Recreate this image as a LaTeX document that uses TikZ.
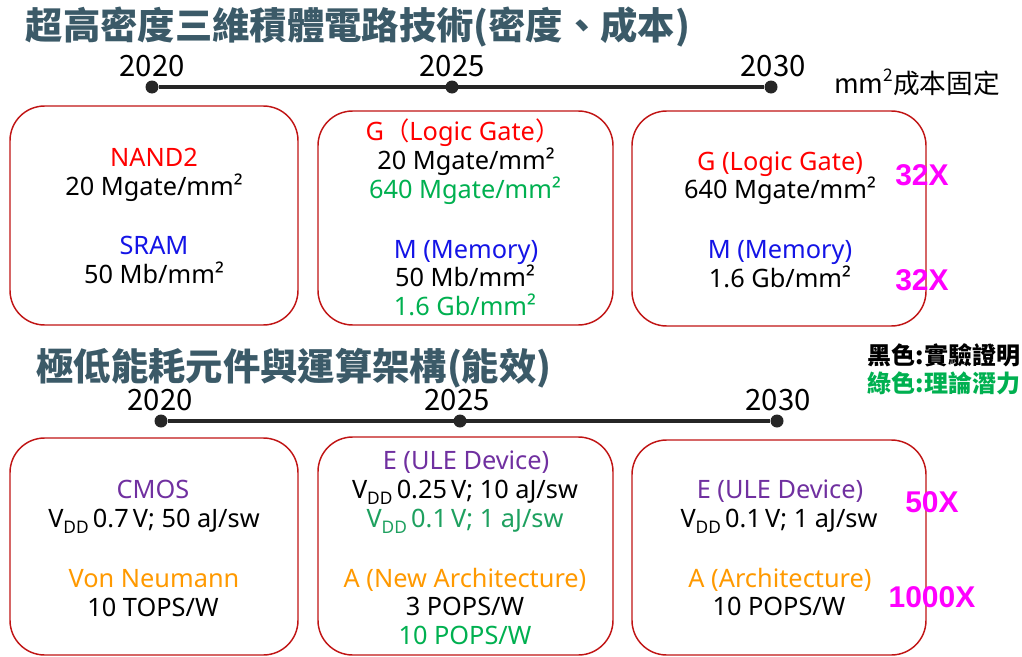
\documentclass[tikz,border=0pt]{standalone}
\usepackage{fontspec}
\setmainfont{Noto Sans}
\newfontfamily\cjk{Noto Sans CJK TC}
\newfontfamily\arialf{Liberation Sans}
\definecolor{titlec}{RGB}{59,90,104}
\definecolor{boxred}{RGB}{192,20,20}
\definecolor{linec}{RGB}{38,38,38}
\definecolor{gr}{RGB}{0,176,80}
\definecolor{grb}{RGB}{30,160,95}
\definecolor{bl}{RGB}{20,20,230}
\definecolor{rd}{RGB}{255,0,0}
\definecolor{pu}{RGB}{112,48,160}
\definecolor{orc}{RGB}{255,153,0}
\definecolor{magc}{RGB}{255,0,255}
\newcommand\Vdd{V\raisebox{-0.26em}{\fontsize{13}{13}\selectfont DD}\,}
\newcommand\sqr{²}
\begin{document}
\begin{tikzpicture}[x=0.75pt,y=-0.75pt,
  box/.style={draw=boxred, line width=1.1pt, rounded corners=26pt, inner sep=0pt},
  t/.style={font=\fontsize{19}{22}\selectfont, inner sep=0pt, text height=13.6pt, text depth=0pt},
  ttl/.style={font=\cjk\bfseries\fontsize{28}{30}\selectfont, text=titlec, inner sep=0pt},
  yr/.style={font=\cjk\fontsize{22}{24}\selectfont, inner sep=0pt},
  dot/.style={circle, fill=linec, minimum size=9.75pt, inner sep=0pt},
  tl/.style={line width=3pt, draw=linec},
  mag/.style={font=\arialf\bfseries\fontsize{22.5}{24}\selectfont, text=magc, inner sep=0pt},
  leg/.style={font=\cjk\bfseries\fontsize{18}{20}\selectfont, inner sep=0pt},
]
\useasboundingbox (0,0) rectangle (1022,657);

% ---------- top section ----------
\node[ttl] (title1) at (358,27) {超高密度三維積體電路技術(密度、成本)};
\node[yr] (y1a) at (152,66) {2020};
\node[yr] (y1b) at (452,66) {2025};
\node[yr] (y1c) at (773,66) {2030};
\node[dot] (d1a) at (152,87) {};
\node[dot] (d1b) at (452,87) {};
\node[dot] (d1c) at (771,87) {};
\draw[tl] (d1a) -- (d1c);
\node[font=\cjk\fontsize{20}{22}\selectfont, inner sep=0pt] (cost) at (917,82) {mm\raisebox{0.45em}{\fontsize{13}{13}\selectfont 2}成本固定};

\node[box, minimum width=216pt, minimum height=164.25pt] (b1) at (154,215.5) {};
\node[box, minimum width=221.25pt, minimum height=160.5pt] (b2) at (465.5,218) {};
\node[box, minimum width=220.5pt, minimum height=161.25pt] (b3) at (779,218.5) {};

\node[t, text=rd] (b1l1) at (154,157) {NAND2};
\node[t] (b1l2) at (154,186) {20 Mgate/mm\sqr};
\node[t, text=bl] (b1l3) at (154,245) {SRAM};
\node[t] (b1l4) at (154,274) {50 Mb/mm\sqr};

\node[t, text=rd] (b2l1) at (463,131) {G{\cjk （}Logic Gate{\cjk ）}};
\node[t] (b2l2) at (466,160) {20 Mgate/mm\sqr};
\node[t, text=gr] (b2l3) at (465,189) {640 Mgate/mm\sqr};
\node[t, text=bl] (b2l4) at (466,249) {M (Memory)};
\node[t] (b2l5) at (465,277) {50 Mb/mm\sqr};
\node[t, text=gr] (b2l6) at (465,306) {1.6 Gb/mm\sqr};

\node[t, text=rd] (b3l1) at (780,161) {G (Logic Gate)};
\node[t] (b3l2) at (780,189) {640 Mgate/mm\sqr};
\node[t, text=bl] (b3l3) at (780,249) {M (Memory)};
\node[t] (b3l4) at (780,278) {1.6 Gb/mm\sqr};

\node[mag] (x1) at (922,175) {32X};
\node[mag] (x2) at (922,280) {32X};

\node[leg] (leg1) at (944,355) {黑色:實驗證明};
\node[leg, text=gr] (leg2) at (944,383) {綠色:理論潛力};

% ---------- bottom section ----------
\node[ttl] (title2) at (294,368) {極低能耗元件與運算架構(能效)};
\node[yr] (y2a) at (160,400) {2020};
\node[yr] (y2b) at (457,400) {2025};
\node[yr] (y2c) at (778,400) {2030};
\node[dot] (d2a) at (161,421) {};
\node[dot] (d2b) at (460,421) {};
\node[dot] (d2c) at (777,421) {};
\draw[tl] (d2a) -- (d2c);

\node[box, minimum width=216pt, minimum height=162.75pt] (b4) at (154,546.5) {};
\node[box, minimum width=221.25pt, minimum height=163.5pt] (b5) at (465.5,546) {};
\node[box, minimum width=220.5pt, minimum height=161.25pt] (b6) at (779,547.5) {};

\node[t, text=pu] (b4l1) at (153,489) {CMOS};
\node[t] (b4l2) at (154,518) {\Vdd0.7\,V; 50 aJ/sw};
\node[t, text=orc] (b4l3) at (154,578) {Von Neumann};
\node[t] (b4l4) at (153,607) {10 TOPS/W};

\node[t, text=pu] (b5l1) at (466,460) {E (ULE Device)};
\node[t] (b5l2) at (465,489) {\Vdd0.25\,V; 10 aJ/sw};
\node[t, text=grb] (b5l3) at (465,518) {\Vdd0.1\,V; 1 aJ/sw};
\node[t, text=orc] (b5l4) at (465,578) {A (New Architecture)};
\node[t] (b5l5) at (465,606) {3 POPS/W};
\node[t, text=gr] (b5l6) at (465,635) {10 POPS/W};

\node[t, text=pu] (b6l1) at (780,489) {E (ULE Device)};
\node[t] (b6l2) at (779,518) {\Vdd0.1\,V; 1 aJ/sw};
\node[t, text=orc] (b6l3) at (780,578) {A (Architecture)};
\node[t] (b6l4) at (779,606) {10 POPS/W};

\node[mag] (x3) at (932,502) {50X};
\node[mag] (x4) at (932,597) {1000X};
\end{tikzpicture}
\end{document}
